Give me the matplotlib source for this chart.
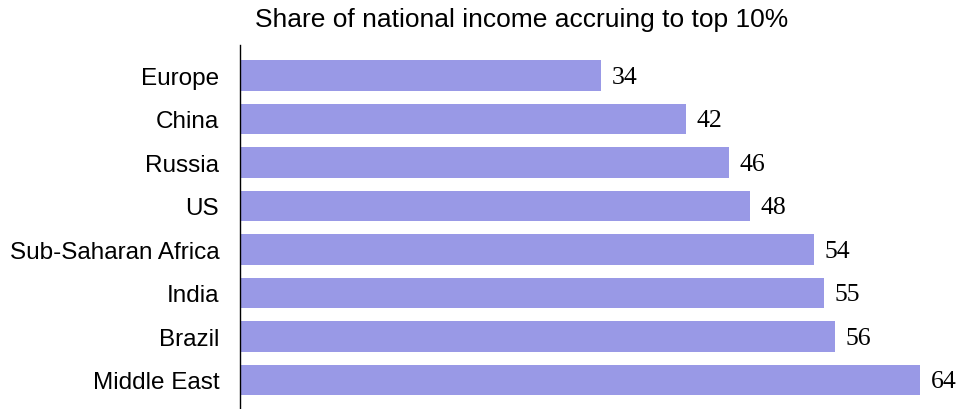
import matplotlib
matplotlib.use("Agg")
from matplotlib import pyplot as plt

# data
countries = ["Europe", "China", "Russia", "US", "Sub-Saharan Africa", "India", "Brazil", "Middle East"]
shares = [34, 42, 46, 48, 54, 55, 56, 64]

bar_color = "#9999e6"

fig = plt.figure(figsize=(9.65, 4.1), dpi=100)
ax = fig.add_axes([240 / 965, 0.0, 701 / 965, 1 - 46 / 410])

pos = range(len(countries))
ax.barh(pos, shares, height=0.7, color=bar_color)

# value labels at the end of each bar
for y, v in zip(pos, shares):
    ax.text(v + 1.0, y + 0.03, str(v), va="center", ha="left",
            fontsize=18.5, family="Liberation Serif")

ax.set_xlim(0, 66)
ax.set_ylim(7.67, -0.7)
ax.set_yticks(list(pos))
ax.set_yticklabels(countries, fontsize=17.5, family="Liberation Sans")
ax.tick_params(axis="y", length=0, pad=15)
ax.set_xticks([])

for s in ["top", "right", "bottom"]:
    ax.spines[s].set_visible(False)
ax.spines["left"].set_linewidth(1.0)

fig.text(522 / 965, 1 - 20 / 410, "Share of national income accruing to top 10%",
         ha="center", va="center", fontsize=19, family="Liberation Sans")

fig.savefig("out.png", dpi=100)
